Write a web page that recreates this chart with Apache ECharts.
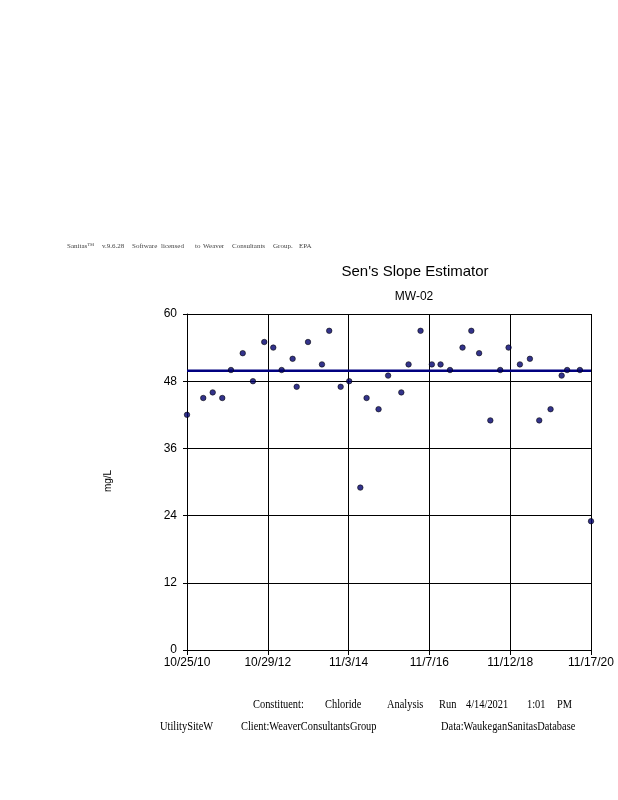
<!DOCTYPE html>
<html>
<head>
<meta charset="utf-8">
<script src="https://cdn.jsdelivr.net/npm/echarts@6/dist/echarts.min.js"></script>
<style>
  html, body { margin: 0; padding: 0; background: #ffffff; }
  #chart { width: 618px; height: 800px; }
</style>
</head>
<body>
<div id="chart"></div>
<script>
// ---- Data ----
const startDate = '2010-10-25';
const endDate = '2020-11-17';
const sampleDates = [
  '2010-10-25', '2011-03-22', '2011-06-16', '2011-09-11', '2011-11-29',
  '2012-03-15', '2012-06-16', '2012-09-27', '2012-12-18', '2013-03-04',
  '2013-06-12', '2013-07-19', '2013-10-30', '2014-03-06', '2014-05-11',
  '2014-08-23', '2014-11-09', '2015-02-18', '2015-04-16', '2015-08-03',
  '2015-10-29', '2016-02-26', '2016-05-02', '2016-08-19', '2016-11-30',
  '2017-02-17', '2017-05-14', '2017-09-05', '2017-11-24', '2018-02-03',
  '2018-05-16', '2018-08-14', '2018-10-29', '2019-02-09', '2019-05-11',
  '2019-08-04', '2019-11-15', '2020-02-24', '2020-04-14', '2020-08-08',
  '2020-11-17'
];
const chlorideValues = [
  42, 45, 46, 45, 50,
  53, 48, 55, 54, 50,
  52, 47, 55, 51, 57,
  47, 48, 29, 45, 43,
  49, 46, 51, 57, 51,
  51, 50, 54, 57, 53,
  41, 50, 54, 51, 52,
  41, 43, 49, 50, 50,
  23
];
const xTickLabels = ['10/25/10', '10/29/12', '11/3/14', '11/7/16', '11/12/18', '11/17/20'];
const yMin = 0, yMax = 60, yInterval = 12;
const senSlopeStart = 49.85;  // estimated Sen's slope line level at start
const senSlopeEnd = 49.85;    // and at end (flat)

// ---- Helpers ----
const DAY = 86400000;
function dayOffset(d) { return Math.round((Date.parse(d) - Date.parse(startDate)) / DAY); }
const xMax = dayOffset(endDate);
const xInterval = xMax / (xTickLabels.length - 1);
const scatterData = sampleDates.map((d, i) => [dayOffset(d), chlorideValues[i]]);

const chart = echarts.init(document.getElementById('chart'), null, { renderer: 'canvas' });

function txt(x, y, text, font, fill, align, scaleX) {
  return {
    type: 'text', x: x, y: y, scaleX: scaleX || 1,
    style: { text: text, font: font, fill: fill || '#000', textAlign: align || 'left', textVerticalAlign: 'middle' }
  };
}

const headerFont = '7px "Liberation Serif"';
const headerColor = '#444';
const footFont = '13px "Liberation Serif"';
const fs = 0.8;

chart.setOption({
  animation: false,
  backgroundColor: '#ffffff',
  grid: { left: 187, right: 27, top: 314, bottom: 150, containLabel: false },
  xAxis: {
    type: 'value', min: 0, max: xMax, interval: xInterval,
    axisLine: { show: true, lineStyle: { color: '#000', width: 1 } },
    axisTick: { show: true, length: 5, lineStyle: { color: '#000' } },
    splitLine: { show: true, lineStyle: { color: '#000', width: 1 } },
    axisLabel: {
      color: '#000', fontFamily: 'Arial, "Liberation Sans"', fontSize: 12, margin: 7,
      formatter: v => xTickLabels[Math.round(v / xInterval)]
    }
  },
  yAxis: {
    type: 'value', min: yMin, max: yMax, interval: yInterval,
    axisLine: { show: true, lineStyle: { color: '#000', width: 1 } },
    axisTick: { show: true, length: 4, lineStyle: { color: '#000' } },
    splitLine: { show: true, lineStyle: { color: '#000', width: 1 } },
    axisLabel: { color: '#000', fontFamily: 'Arial, "Liberation Sans"', fontSize: 12, margin: 10 }
  },
  series: [
    {
      type: 'line',
      data: [[0, senSlopeStart], [xMax, senSlopeEnd]],
      showSymbol: false, symbol: 'none',
      lineStyle: { color: '#000080', width: 2.5 },
      z: 2, silent: true
    },
    {
      type: 'scatter',
      data: scatterData,
      symbol: 'circle', symbolSize: 5.5,
      itemStyle: { color: '#00006e', borderColor: '#000', borderWidth: 0.7 },
      z: 3
    }
  ],
  graphic: [
    // header line
    txt(67, 246, 'Sanitas™', headerFont, headerColor),
    txt(102, 246, 'v.9.6.28', headerFont, headerColor),
    txt(132, 246, 'Software', headerFont, headerColor),
    txt(161, 246, 'licensed', headerFont, headerColor),
    txt(195, 246, 'to', headerFont, headerColor),
    txt(203, 246, 'Weaver', headerFont, headerColor),
    txt(232, 246, 'Consultants', headerFont, headerColor),
    txt(273, 246, 'Group.', headerFont, headerColor),
    txt(299, 246, 'EPA', headerFont, headerColor),
    // titles
    txt(415, 272, "Sen's Slope Estimator", '15px Arial, "Liberation Sans"', '#000', 'center'),
    txt(414, 297, 'MW-02', '12px Arial, "Liberation Sans"', '#000', 'center'),
    // y axis name
    {
      type: 'text', x: 108, y: 481, rotation: Math.PI / 2,
      style: { text: 'mg/L', font: '10px Arial, "Liberation Sans"', fill: '#000', textAlign: 'center', textVerticalAlign: 'middle' }
    },
    // footer line 1
    txt(253, 705, 'Constituent:', footFont, '#000', 'left', fs),
    txt(325, 705, 'Chloride', footFont, '#000', 'left', fs),
    txt(387, 705, 'Analysis', footFont, '#000', 'left', fs),
    txt(439, 705, 'Run', footFont, '#000', 'left', fs),
    txt(466, 705, '4/14/2021', footFont, '#000', 'left', fs),
    txt(527, 705, '1:01', footFont, '#000', 'left', fs),
    txt(557, 705, 'PM', footFont, '#000', 'left', fs),
    // footer line 2
    txt(160, 727, 'UtilitySiteW', footFont, '#000', 'left', fs),
    txt(241, 727, 'Client:WeaverConsultantsGroup', footFont, '#000', 'left', fs),
    txt(441, 727, 'Data:WaukeganSanitasDatabase', footFont, '#000', 'left', fs)
  ]
});
</script>
</body>
</html>
